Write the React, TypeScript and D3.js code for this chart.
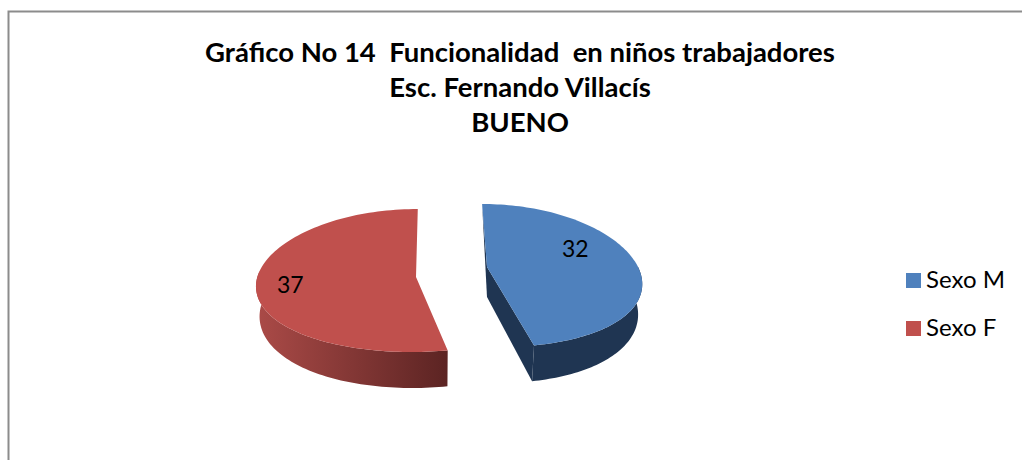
import React from "react";
import * as d3 from "d3";

const categories = ["Sexo M", "Sexo F"];
const values = [32, 37];
const colors = ["#4f81bd", "#c0504d"];
const titleLines = ["Gráfico No 14  Funcionalidad  en niños trabajadores", "Esc. Fernando Villacís", "BUENO"];

const width = 1022;
const height = 460;
const font = "Lato, 'Open Sans', sans-serif";

// where each exploded slice sits on the page
const slices = [
  { apexX: 487, apexY: 267, rimY: 280, r: 155, side: "#1f3552" },
  { apexX: 416, apexY: 277, rimY: 285, r: 160, side: "#7a302e" },
];
const vanishX = 435;

const pie = d3.pie<number>().sort(null).startAngle(0).endAngle(Math.PI * 2);

const App = () => {
  const arcs = pie(values);
  const line = d3.line<[number, number]>();

  const faces = arcs.map((a, i) => {
    const s = slices[i];
    // fake perspective: z is -1 at the back of the pie and 1 at the front
    const rim = (t: number): [number, number] => {
      const z = -Math.cos(t);
      const lean = (s.apexX - vanishX) * (0.167 * z + 0.073 * z * z);
      return [s.apexX + s.r * Math.sin(t) + lean, s.rimY + 71.5 * z - 4.5 * z * z];
    };
    const drop = (t: number): [number, number] => {
      const p = rim(t);
      return [vanishX + (p[0] - vanishX) * 0.98, p[1] + 30 + 6 * -Math.cos(t)];
    };
    const ts = d3.range(0, 121).map((k) => a.startAngle + ((a.endAngle - a.startAngle) * k) / 120);
    const top = ts.map(rim);
    const apex: [number, number] = [s.apexX, s.apexY];
    const apexLow: [number, number] = [s.apexX, s.apexY + 30];
    // the back of the wall is hidden behind the top face anyway
    const front = ts.filter((t) => -Math.cos(t) > -0.2);
    const wall = [...front.map(rim), ...front.map(drop).reverse()];
    return {
      top: line([apex, ...top]) + "Z",
      wall: line(wall) + "Z",
      // only the blue slice shows its cut faces
      cuts:
        i === 0
          ? [
              line([top[0], apex, apexLow]) + "Z",
              line([apex, top[120], drop(a.endAngle), apexLow]) + "Z",
            ]
          : [],
    };
  });

  const labelPos = [
    [562, 257],
    [277, 293],
  ];
  const order = [1, 0];

  return (
    <svg width={width} height={height} style={{ position: "absolute", left: 0, top: 0 }}>
      <defs>
        <linearGradient id="redSide" gradientUnits="userSpaceOnUse" x1="258" x2="447" y1="0" y2="0">
          <stop offset="0" stopColor="#aa4a47" />
          <stop offset="1" stopColor="#5c2423" />
        </linearGradient>
      </defs>
      <rect width={width} height={height} fill="#fff" />
      <path d="M8.5 460V11.5H1022" fill="none" stroke="#8c8c8c" strokeWidth={2} />
      {titleLines.map((t, i) => (
        <text
          key={i}
          x={520}
          y={62 + i * 35}
          textAnchor="middle"
          fontFamily={font}
          fontWeight={700}
          fontSize={27.5}
          fill="#000"
          style={{ whiteSpace: "pre" }}
        >
          {t}
        </text>
      ))}
      {order.map((i) => (
        <g key={i}>
          <path d={faces[i].wall} fill={i === 1 ? "url(#redSide)" : slices[i].side} />
          {faces[i].cuts.map((d, k) => (
            <path key={k} d={d} fill={slices[i].side} />
          ))}
          <path d={faces[i].top} fill={colors[i]} />
          <text x={labelPos[i][0]} y={labelPos[i][1]} fontFamily={font} fontSize={23} fill="#000">
            {values[i]}
          </text>
        </g>
      ))}
      {categories.map((c, i) => (
        <g key={c}>
          <rect x={906} y={273 + i * 48} width={15} height={15} fill={colors[i]} />
          <text x={926} y={288 + i * 48} fontFamily={font} fontSize={24} fill="#000">
            {c}
          </text>
        </g>
      ))}
    </svg>
  );
};

export default App;
